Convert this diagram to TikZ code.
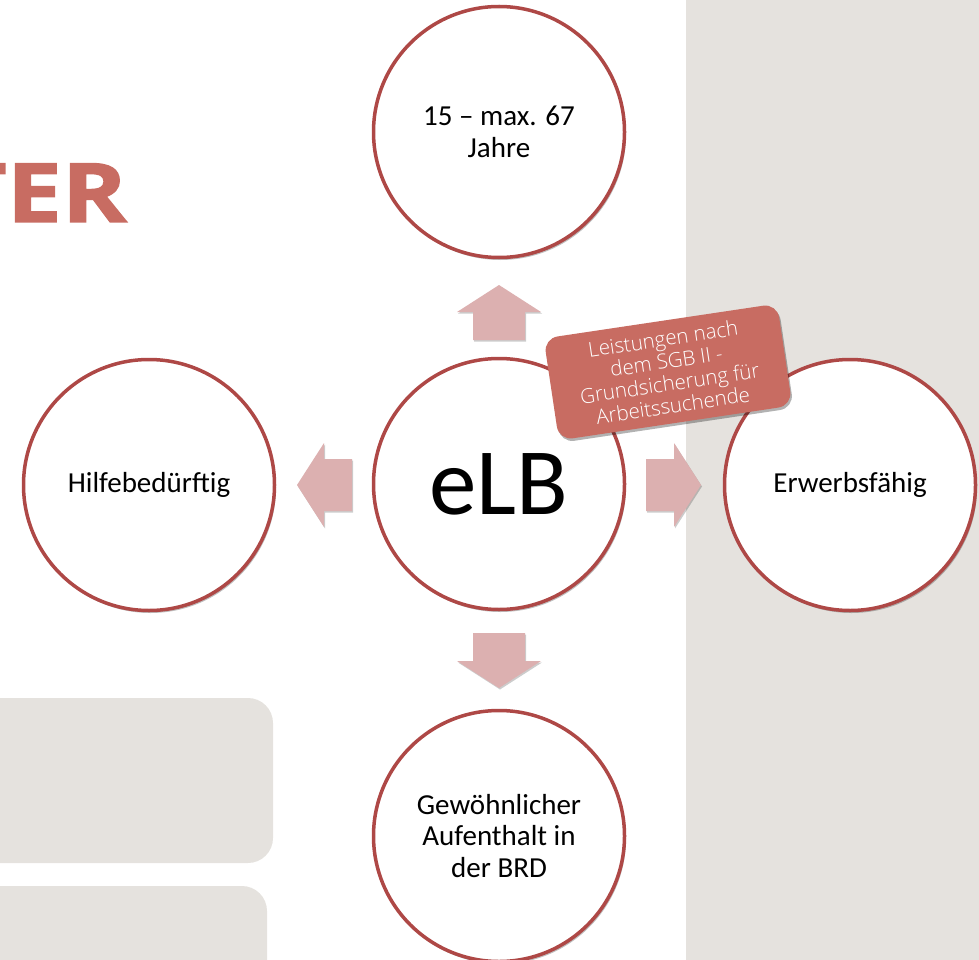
\documentclass[tikz,border=0pt]{standalone}
\usepackage{fontspec}
\setmainfont{Carlito}
\newfontfamily\labelfont{Open Sans Light}
\newfontfamily\titlefont{Open Sans}[BoldFeatures={FakeBold=1.6}]
\usetikzlibrary{shadows}
\definecolor{ring}{RGB}{174,72,70}
\definecolor{accent}{RGB}{200,108,98}
\definecolor{arrowfill}{RGB}{220,176,176}
\definecolor{panel}{RGB}{229,226,222}
\tikzset{
  circ/.style={circle, draw=ring, line width=3.5pt, fill=white, minimum size=251pt,
    inner sep=0pt, align=center, font=\fontsize{29}{31.5}\selectfont,
    drop shadow={shadow xshift=1.5pt, shadow yshift=-2.5pt, opacity=0.25, fill=black}},
  panelbox/.style={fill=panel},
  tag/.style={rectangle, rounded corners=14pt, fill=accent, text=white,
    minimum width=236pt, minimum height=103pt, inner sep=2pt, align=center,
    font=\labelfont\fontsize{20.5}{22.5}\selectfont,
    drop shadow={shadow xshift=1.5pt, shadow yshift=-2.5pt, opacity=0.3, fill=black}},
  bigarrow/.pic={
    \fill[arrowfill, drop shadow={shadow xshift=1pt, shadow yshift=-1.5pt, opacity=0.2, fill=black}]
      (-26,0) -- (-26,-28) -- (-42,-28) -- (0,-55) -- (42,-28) -- (26,-28) -- (26,0) -- cycle;
  }
}
\begin{document}
\begin{tikzpicture}[x=1pt,y=-1pt]
\useasboundingbox (0,0) rectangle (979,960);
% background panels
\fill[panelbox] (686,0) rectangle (979,960);
\fill[panelbox, rounded corners=25pt] (-40,698) rectangle (273,863);
\fill[panelbox, rounded corners=25pt] (-40,886) rectangle (267,1000);
% title fragment
\node[anchor=base east, inner sep=0pt, text=accent,
  font=\titlefont\bfseries\fontsize{82}{82}\selectfont] (title) at (127,222) {\scalebox{1.2}[1]{TER}};
% circles
\node[circ] (top) at (499,132) {15 – max. 67\\Jahre};
\node[circ] (left) at (149,485) {Hilfebedürftig};
\node[circ] (right) at (850,485) {Erwerbsfähig};
\node[circ] (bottom) at (499,836) {Gewöhnlicher\\Aufenthalt in\\der BRD};
\node[circ, font=\fontsize{95}{95}\selectfont] (center) at (499,484) {eLB};
% arrows
\pic at (499,340) {bigarrow};
\pic[rotate=90] at (352,485) {bigarrow};
\pic[rotate=-90] at (646,485) {bigarrow};
\pic[rotate=180] at (499,633) {bigarrow};
% tag
\node[tag, rotate=8.5] (tag) at (668,372) {Leistungen nach\\dem SGB II -\\Grundsicherung für\\Arbeitssuchende};
\end{tikzpicture}
\end{document}
